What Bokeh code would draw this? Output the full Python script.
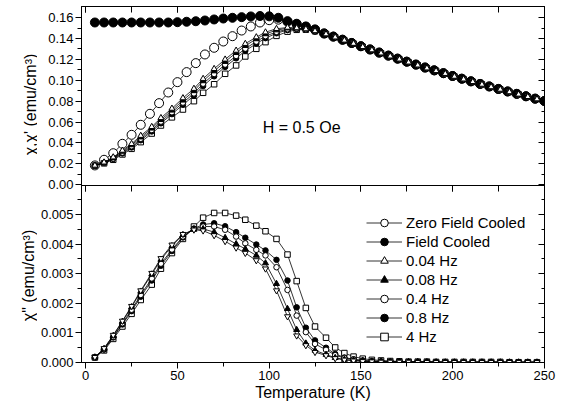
import math
from bokeh.plotting import figure
from bokeh.models import (Range1d, SingleIntervalTicker, FixedTicker, LinearAxis,
                          CustomJSTickFormatter, Legend, LegendItem, Label)
from bokeh.layouts import row
from bokeh.embed import file_html
from bokeh.resources import INLINE

FONT = "Liberation Sans"

# ---------------- data ----------------
T_dc = [5, 10, 15, 20, 25, 30, 35, 40, 45, 50, 55, 60, 65, 70, 75, 80, 85, 90, 95, 100,
        105, 110, 115, 120, 125, 130, 135, 140, 145, 150, 155, 160, 165, 170, 175, 180,
        185, 190, 195, 200, 205, 210, 215, 220, 225, 230, 235, 240, 245, 250]

dc_tail = [.1448, .1418, .1388, .1357, .1326, .1295, .1265, .1236, .1207, .1178, .1150, .1122,
           .1095, .1068, .1041, .1015, .0990, .0965, .0941, .0917, .0893, .0870, .0847, .0824, .0802]

zfc_low = [.0185, .0239, .0302, .0392, .0478, .0574, .0679, .0781, .0883, .0982, .1078, .1164,
           .1247, .1311, .1371, .1422, .1476, .1515, .1553, .1575, .1580, .1560, .1535, .1512, .1485]
fc_low = [.1553, .1553, .1553, .1553, .1553, .1553, .1553, .1553, .1553, .1556, .1560, .1565,
          .1572, .1582, .1591, .1598, .1604, .1611, .1615, .1612, .1598, .1566, .1541, .1515, .1486]
zfc = zfc_low + dc_tail
fc = fc_low + dc_tail

T_ac = [5, 10, 15, 20, 25, 30, 36, 41, 47, 53, 59, 64, 70, 76, 82, 87, 93, 98, 104, 110, 115,
        120, 125, 131, 136, 141, 146, 151, 156, 161, 166, 171, 176, 181, 186, 191, 196, 201,
        206, 211, 216, 221, 226, 231, 236, 241, 246]

re_tail = [.1412, .1382, .1351, .1320, .1289, .1259, .1230, .1201, .1172, .1144, .1116, .1090,
           .1063, .1036, .1010, .0985, .0960, .0936, .0912, .0888, .0865, .0842, .0820]

re_004 = [.0185, .0215, .0264, .0328, .0392, .0470, .0555, .0640, .0730, .0830, .0920, .1015,
          .1110, .1200, .1285, .1350, .1413, .1460, .1493, .1505, .1500, .1490, .1472, .1442] + re_tail
re_008 = [.0185, .0213, .0258, .0318, .0380, .0455, .0540, .0622, .0712, .0808, .0898, .0993,
          .1088, .1178, .1263, .1330, .1395, .1443, .1480, .1498, .1497, .1489, .1471, .1442] + re_tail
re_04 = [.0184, .0211, .0252, .0308, .0368, .0440, .0524, .0604, .0694, .0786, .0874, .0967,
         .1060, .1150, .1233, .1303, .1370, .1422, .1463, .1488, .1493, .1487, .1470, .1442] + re_tail
re_08 = [.0184, .0209, .0247, .0300, .0357, .0426, .0510, .0588, .0676, .0766, .0853, .0945,
         .1038, .1128, .1210, .1283, .1350, .1403, .1450, .1480, .1490, .1486, .1470, .1442] + re_tail
re_4 = [.0183, .0205, .0239, .0290, .0344, .0408, .0490, .0567, .0645, .0720, .0800, .0880,
        .0962, .1062, .1142, .1228, .1301, .1365, .1425, .1465, .1483, .1484, .1469, .1442] + re_tail

im_004 = [.00017, .00047, .00092, .00140, .00190, .00243, .00302, .00352, .00398, .00434, .00449,
          .00446, .00430, .00410, .00388, .00370, .00345, .00317, .00243, .00155, .00090, .00057,
          .00034, .00023, .00013, .00008, .00005, .00003, .00002, .00001, .00001, .00001, .00001,
          0, 0, 0, 0, 0, 0, 0, 0, 0, 0, 0, 0, 0, 0]
im_008 = [.00017, .00046, .00090, .00138, .00187, .00240, .00298, .00348, .00394, .00432, .00450,
          .00452, .00441, .00422, .00401, .00384, .00362, .00336, .00266, .00181, .00110, .00064,
          .00040, .00026, .00015, .00009, .00006, .00004, .00002, .00002, .00001, .00001, .00001,
          .00001, 0, 0, 0, 0, 0, 0, 0, 0, 0, 0, 0, 0, 0]
im_04 = [.00016, .00044, .00086, .00132, .00178, .00228, .00284, .00334, .00382, .00426, .00452,
         .00460, .00460, .00449, .00426, .00403, .00381, .00362, .00322, .00245, .00158, .00102,
         .00062, .00042, .00024, .00014, .00009, .00005, .00003, .00002, .00002, .00001, .00001,
         .00001, .00001, 0, 0, 0, 0, 0, 0, 0, 0, 0, 0, 0, 0]
im_08 = [.00016, .00043, .00084, .00128, .00173, .00222, .00277, .00327, .00377, .00423, .00453,
         .00467, .00471, .00461, .00441, .00422, .00399, .00379, .00347, .00277, .00186, .00117,
         .00074, .00049, .00028, .00016, .00010, .00006, .00004, .00003, .00002, .00002, .00001,
         .00001, .00001, .00001, 0, 0, 0, 0, 0, 0, 0, 0, 0, 0, 0]
im_4 = [.00016, .00040, .00079, .00121, .00164, .00211, .00263, .00317, .00370, .00418, .00460,
        .00490, .00506, .00506, .00497, .00483, .00463, .00444, .00418, .00365, .00275, .00184,
        .00121, .00083, .00050, .00031, .00019, .00012, .00008, .00006, .00004, .00003, .00002,
        .00002, .00002, .00001, .00001, .00001, .00001, .00001, .00001, .00001, .00001, 0, 0, 0, 0]

legend_labels = ["Zero Field Cooled", "Field Cooled", "0.04 Hz", "0.08 Hz", "0.4 Hz", "0.8 Hz", "4 Hz"]

top_ticks = [0.00, 0.02, 0.04, 0.06, 0.08, 0.10, 0.12, 0.14, 0.16]
top_minor = [0.01, 0.03, 0.05, 0.07, 0.09, 0.11, 0.13, 0.15]
bot_ticks = [0.000, 0.001, 0.002, 0.003, 0.004, 0.005]
bot_minor = [0.0005, 0.0015, 0.0025, 0.0035, 0.0045, 0.0055]
x_tick_interval = 50

# ---------------- two stacked panels in one frame ----------------
# upper panel uses the default y range (its data fill the upper half of the frame),
# lower panel uses the extra range "bot" (its data fill the lower half)
TOP_LO, TOP_HI = -0.1701, 0.1706
BOT_LO, BOT_HI = -0.00001, 0.01206
SPLIT = -0.0007          # upper-panel value at the boundary between the panels
FRAME_H, BORDER_TOP, BORDER_BOTTOM = 356, 6, 43
TITLE_W = 37


def bot_to_top(b):
    return TOP_LO + (b - BOT_LO) / (BOT_HI - BOT_LO) * (TOP_HI - TOP_LO)


p = figure(frame_width=463, frame_height=FRAME_H,
           x_range=Range1d(-2.3, 250.1), y_range=Range1d(TOP_LO, TOP_HI),
           output_backend="svg", toolbar_location=None,
           x_axis_location=None, y_axis_location=None,
           min_border_left=42, min_border_right=12, min_border_top=BORDER_TOP,
           min_border_bottom=BORDER_BOTTOM)
p.extra_y_ranges = {"bot": Range1d(BOT_LO, BOT_HI)}
p.grid.visible = False
p.outline_line_color = "black"
p.background_fill_color = "white"
p.border_fill_color = "white"

y_ticker = FixedTicker(ticks=top_ticks + [bot_to_top(b) for b in bot_ticks],
                       minor_ticks=top_minor + [bot_to_top(b) for b in bot_minor])
y_fmt = CustomJSTickFormatter(args=dict(lo1=TOP_LO, hi1=TOP_HI, lo2=BOT_LO, hi2=BOT_HI, split=SPLIT),
                              code="""
if (tick < split) {
  const b = lo2 + (tick - lo1) / (hi1 - lo1) * (hi2 - lo2);
  return (Math.round(b * 1000) / 1000 + 0).toFixed(3);
}
return (Math.round(tick * 100) / 100 + 0).toFixed(2);
""")
BLANK = CustomJSTickFormatter(code="return ''")


def style_axis(ax, tick_in, tick_out, minor_in, minor_out, labels=True):
    ax.axis_line_color = "black"
    ax.major_tick_line_color = "black"
    ax.minor_tick_line_color = "black"
    ax.major_tick_in = tick_in
    ax.major_tick_out = tick_out
    ax.minor_tick_in = minor_in
    ax.minor_tick_out = minor_out
    if labels:
        ax.major_label_text_font = FONT
        ax.major_label_text_font_size = "13px"
        ax.major_label_text_color = "black"
        ax.major_label_standoff = 2
        ax.axis_label_text_font = FONT
        ax.axis_label_text_font_size = "16px"
        ax.axis_label_text_font_style = "normal"
        ax.axis_label_text_color = "black"
    else:
        ax.formatter = BLANK
        ax.major_label_standoff = 0
    return ax


yl = LinearAxis(ticker=y_ticker, formatter=y_fmt)
style_axis(yl, 0, 6, 0, 4)
p.add_layout(yl, "left")

yr = LinearAxis(ticker=y_ticker)
style_axis(yr, 6, 0, 3, 0, labels=False)
p.add_layout(yr, "right")

xt = LinearAxis(ticker=SingleIntervalTicker(interval=x_tick_interval, num_minor_ticks=2))
style_axis(xt, 6, 0, 6, 0, labels=False)
p.add_layout(xt, "above")

# boundary line between the two panels, with its ticks pointing into the lower panel
xm = LinearAxis(ticker=SingleIntervalTicker(interval=x_tick_interval, num_minor_ticks=2),
                fixed_location=SPLIT)
style_axis(xm, 6, 0, 6, 0, labels=False)
p.add_layout(xm, "above")

xb = LinearAxis(ticker=SingleIntervalTicker(interval=x_tick_interval, num_minor_ticks=2),
                axis_label="Temperature (K)", axis_label_standoff=1)
style_axis(xb, 0, 6, 0, 4)
xb.major_label_standoff = 2
p.add_layout(xb, "below")


def series(x, y, marker, size, fill, rng="default", lw=0.8):
    lr = p.line(x, y, line_color="black", line_width=lw, y_range_name=rng)
    sr = p.scatter(x, y, marker=marker, size=size, fill_color=fill, line_color="black",
                   line_width=1, y_range_name=rng)
    return [lr, sr]


# upper panel: chi, chi'
r_zfc = series(T_dc, zfc, "circle", 9, "white")
r_fc = series(T_dc, fc, "circle", 9, "black")
r_4 = series(T_ac, re_4, "square", 5.5, "white")
r_08 = series(T_ac, re_08, "circle", 5.5, "black")
r_04 = series(T_ac, re_04, "circle", 5.5, "white")
r_008 = series(T_ac, re_008, "triangle", 6, "black")
r_004 = series(T_ac, re_004, "triangle", 6, "white")

# lower panel: chi''
series(T_ac, im_4, "square", 5.5, "white", "bot")
series(T_ac, im_08, "circle", 5.5, "black", "bot")
series(T_ac, im_04, "circle", 5.5, "white", "bot")
series(T_ac, im_008, "triangle", 6, "black", "bot")
series(T_ac, im_004, "inverted_triangle", 6, "white", "bot")

p.add_layout(Label(x=96.5, y=0.0551, text="H = 0.5 Oe", text_baseline="middle",
                   text_font=FONT, text_font_size="16px", text_color="black"))

items = [LegendItem(label=lab, renderers=rs) for lab, rs in
         zip(legend_labels, [r_zfc, r_fc, r_004, r_008, r_04, r_08, r_4])]
legend = Legend(items=items, location=(285, 16), glyph_width=36, glyph_height=19,
                label_height=19, spacing=0, padding=0, margin=0, label_standoff=4,
                label_text_font=FONT, label_text_font_size="15px", label_text_color="black",
                border_line_color=None, background_fill_alpha=0)
p.add_layout(legend, "center")

# ---------------- strip at the left that holds the two y-axis titles ----------------
ft = figure(frame_width=TITLE_W, frame_height=FRAME_H,
            x_range=Range1d(0, TITLE_W), y_range=Range1d(TOP_LO, TOP_HI),
            output_backend="svg", toolbar_location=None,
            x_axis_location=None, y_axis_location=None,
            min_border_left=0, min_border_right=0, min_border_top=BORDER_TOP,
            min_border_bottom=BORDER_BOTTOM)
ft.extra_y_ranges = {"bot": Range1d(BOT_LO, BOT_HI)}
ft.grid.visible = False
ft.outline_line_color = None
ft.background_fill_color = "white"
ft.border_fill_color = "white"
ft.add_layout(Label(x=29.5, y=0.0768, text="\u03c7,\u03c7' (emu/cm\u00b3)",
                    angle=math.pi / 2, text_align="center", text_baseline="middle",
                    text_font=FONT, text_font_size="16px", text_color="black"))
ft.add_layout(Label(x=27.5, y=0.00294, y_range_name="bot",
                    text="\u03c7\" (emu/cm\u00b3)", angle=math.pi / 2, text_align="center",
                    text_baseline="middle", text_font=FONT, text_font_size="16px",
                    text_color="black"))

layout = row(ft, p, spacing=0)
open("out.html", "w").write(file_html(layout, INLINE))
